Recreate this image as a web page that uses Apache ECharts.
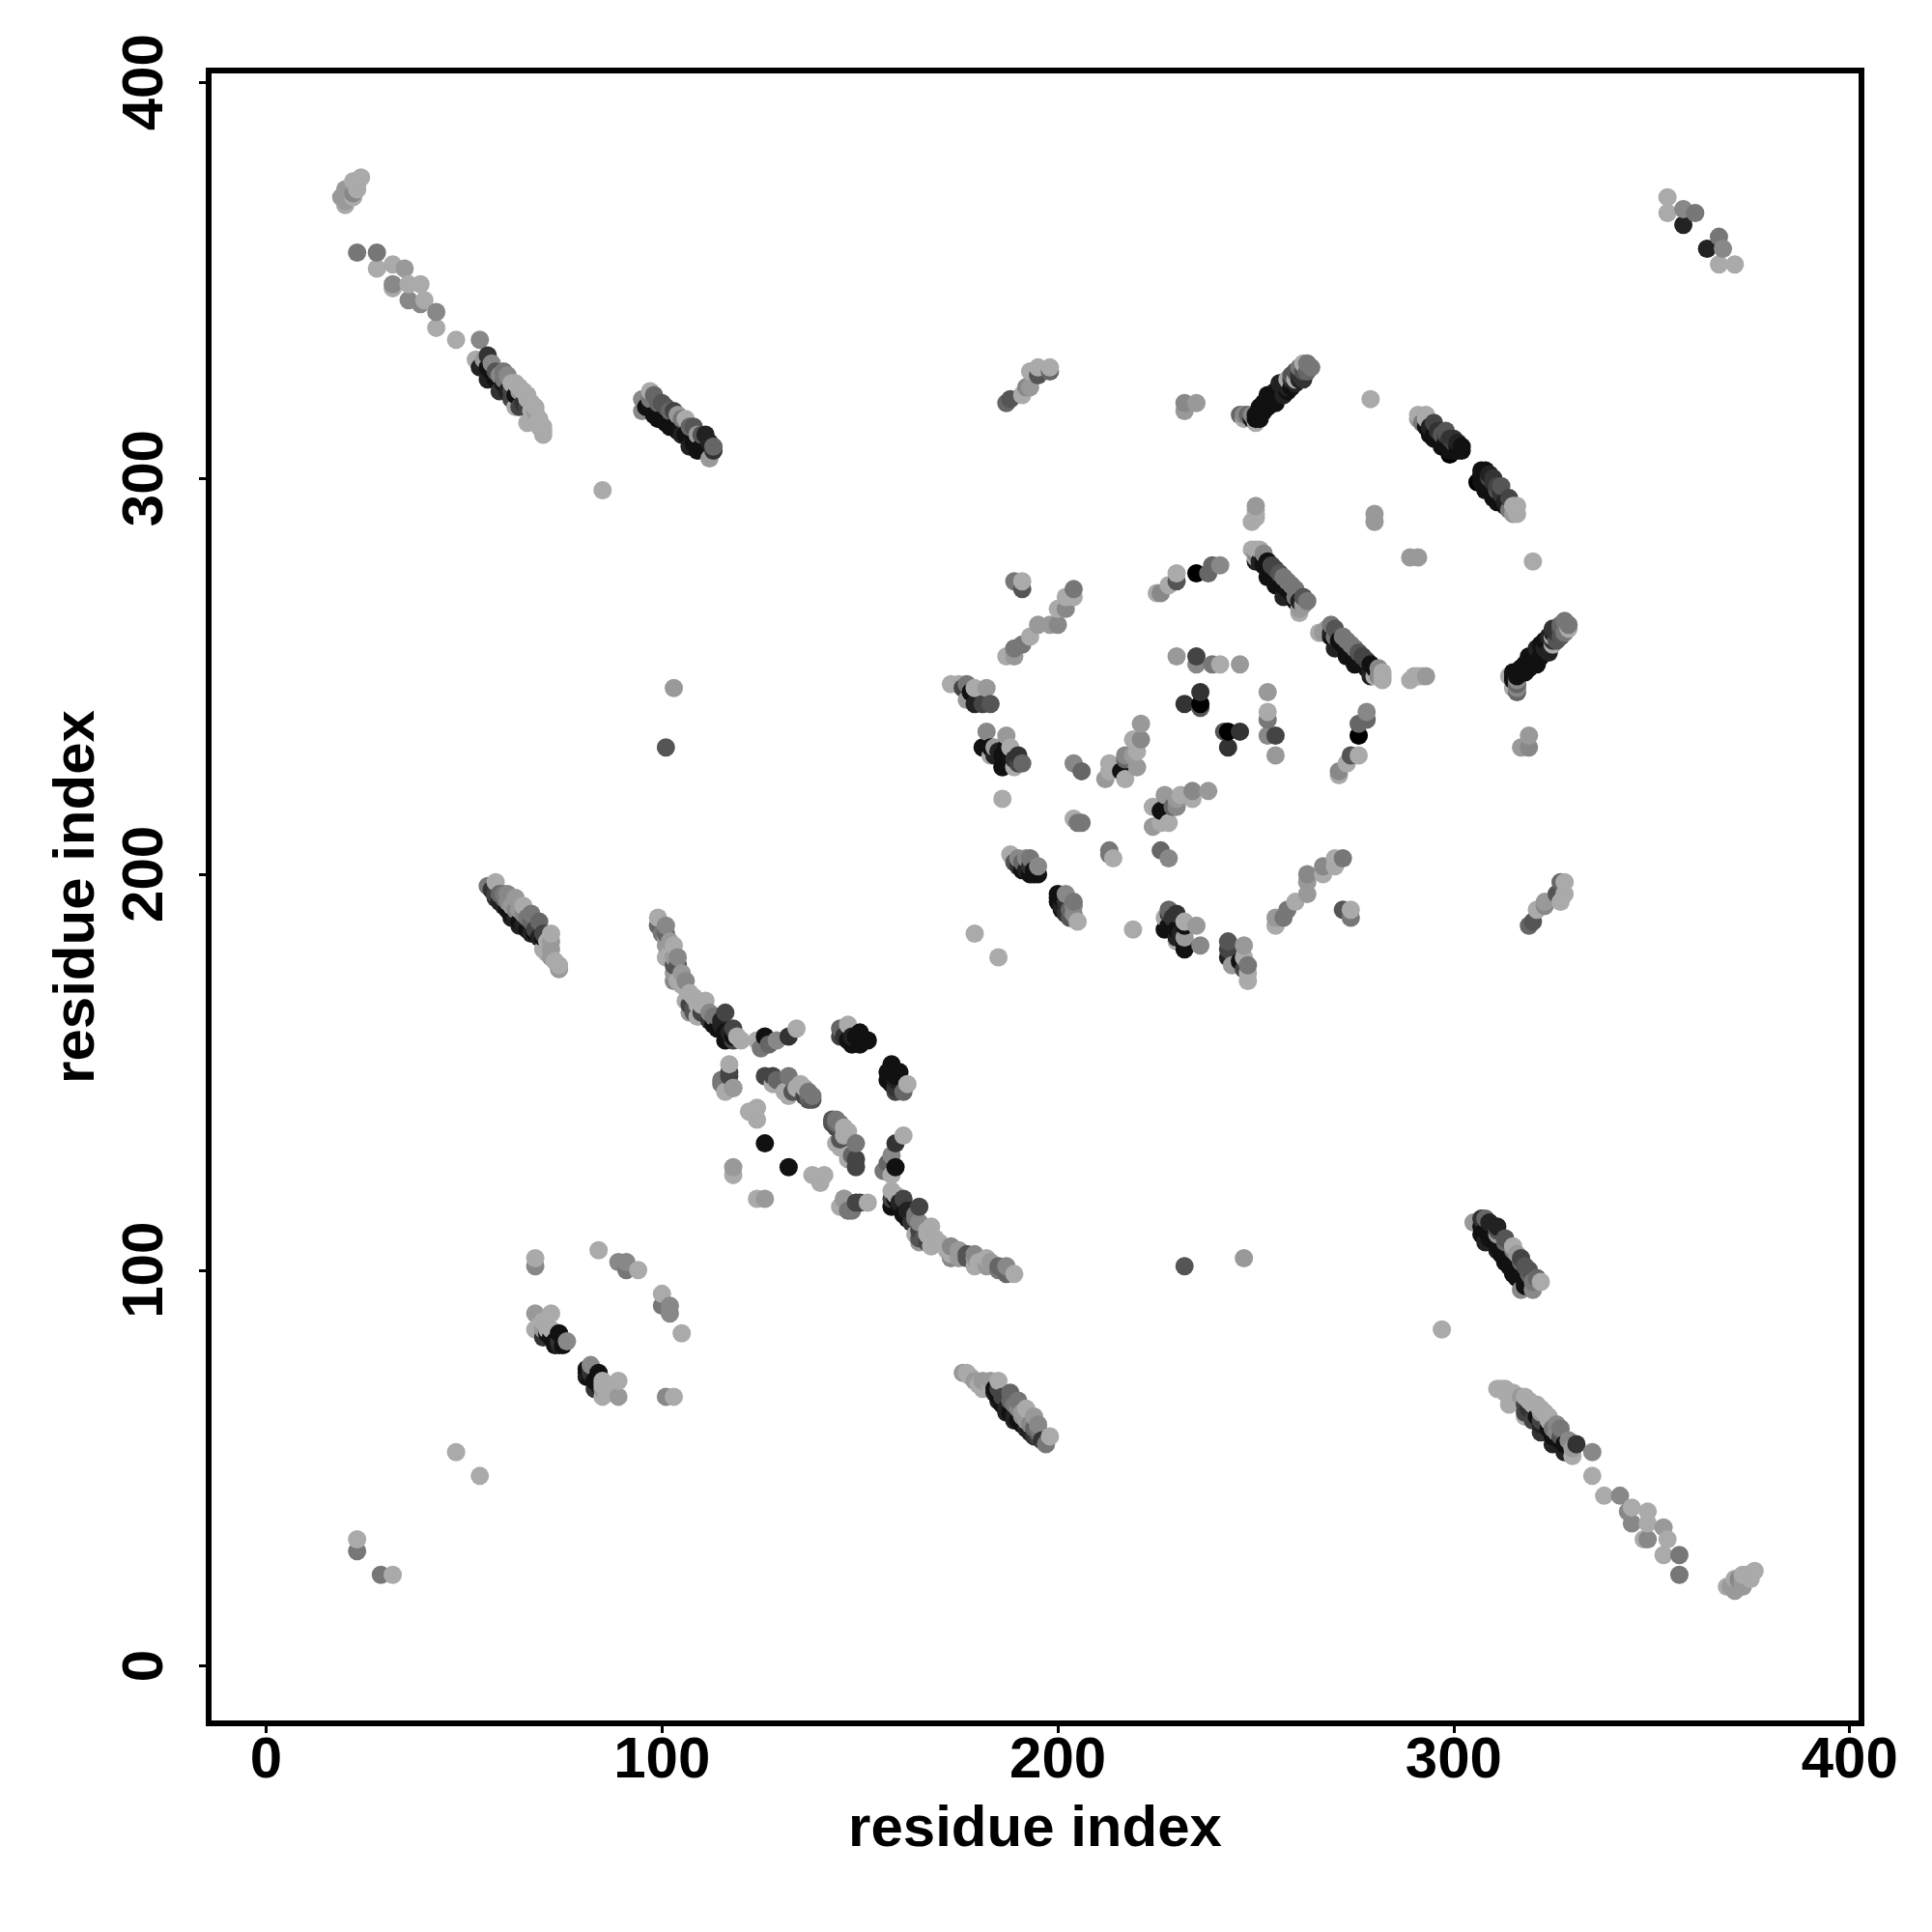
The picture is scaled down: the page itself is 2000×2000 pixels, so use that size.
<!DOCTYPE html>
<html>
<head>
<meta charset="utf-8">
<style>html,body{margin:0;padding:0;background:#fff}#c{width:2000px;height:2000px}</style>
<script src="https://cdn.jsdelivr.net/npm/echarts@6/dist/echarts.min.js"></script>
</head>
<body>
<div id="c"></div>
<script>
// Residue contacts: [i, j, shade]; shade s means grey #sss. Map is symmetric.
const terminiBlob = [[24,376,'a'],[22,375,'a'],[21,372,'9'],[20,373,'9'],[20,370,'9'],[20,369,'a'],[23,374,'a'],[21,373,'9'],[22,372,'8'],[22,371,'a'],[23,375,'a'],[23,373,'a'],[19,371,'9']];
const earlyContacts = [[23,32,'a'],[23,29,'7'],[48,54,'a'],[85,297,'a'],[101,232,'5'],[103,247,'9'],[179,185,'a'],[186,219,'a'],[279,320,'a']];
const strandA = [[23,357,'7'],[28,357,'7'],[28,353,'a'],[32,354,'a'],[35,353,'9'],[32,349,'8'],[32,348,'a'],[36,349,'a'],[39,349,'a'],[36,345,'8'],[40,345,'a'],[39,344,'8'],[43,342,'8'],[43,338,'a'],[48,335,'a'],[54,335,'8']];
const strandB = [[53,330,'a'],[56,331,'3'],[54,328,'2'],[57,329,'8'],[60,327,'7'],[56,325,'2'],[62,324,'a'],[64,323,'a'],[59,322,'3'],[66,321,'a'],[62,320,'4'],[63,318,'a'],[64,318,'4'],[68,317,'9'],[66,314,'a'],[69,315,'a'],[70,312,'a'],[55,330,'9'],[56,328,'1'],[57,327,'1'],[58,325,'1'],[58,327,'5'],[59,326,'8'],[60,324,'1'],[60,325,'7'],[61,322,'2'],[61,326,'8'],[62,322,'4'],[63,321,'1'],[63,324,'a'],[64,322,'9'],[65,319,'3'],[65,322,'a'],[66,318,'4'],[66,320,'a'],[67,317,'a'],[67,319,'a'],[68,315,'a'],[68,318,'a'],[69,314,'a'],[70,313,'a'],[70,311,'a'],[69,313,'a']];
const strandC = [[95,320,'8'],[95,317,'8'],[97,322,'a'],[98,321,'6'],[97,318,'1'],[100,319,'5'],[99,315,'1'],[103,317,'4'],[102,313,'1'],[104,316,'9'],[106,315,'a'],[105,311,'2'],[108,313,'5'],[107,308,'2'],[109,311,'9'],[111,311,'2'],[109,307,'1'],[113,308,'6'],[112,305,'9'],[113,307,'3'],[96,318,'1'],[97,320,'7'],[98,316,'1'],[99,319,'6'],[100,315,'1'],[101,318,'5'],[101,314,'1'],[102,317,'6'],[103,313,'1'],[104,312,'1'],[105,315,'7'],[106,311,'1'],[107,313,'6'],[108,309,'1'],[110,308,'1'],[110,311,'5'],[111,307,'1'],[112,309,'2']];
const strandD = [[56,197,'7'],[58,198,'a'],[58,195,'4'],[60,195,'7'],[61,195,'8'],[60,192,'2'],[63,194,'9'],[62,189,'2'],[65,192,'a'],[64,187,'2'],[67,190,'7'],[67,185,'2'],[69,188,'6'],[70,185,'4'],[72,185,'a'],[70,181,'a'],[72,181,'9'],[72,179,'9'],[74,177,'a'],[57,196,'3'],[58,194,'3'],[59,193,'2'],[59,195,'6'],[60,194,'6'],[61,191,'1'],[61,193,'8'],[62,190,'1'],[62,192,'9'],[63,189,'2'],[63,191,'8'],[64,188,'1'],[64,191,'9'],[65,187,'2'],[65,190,'8'],[66,186,'1'],[66,189,'7'],[67,188,'6'],[68,185,'1'],[68,186,'4'],[69,184,'2'],[70,184,'1'],[71,183,'a'],[71,180,'a'],[73,178,'a'],[72,183,'9'],[74,176,'9']];
const loopE = [[68,103,'a'],[68,101,'8'],[84,105,'a'],[89,102,'8'],[91,102,'8'],[91,100,'7'],[94,100,'a'],[68,89,'9'],[72,89,'a'],[68,85,'a'],[70,85,'9'],[74,84,'1'],[70,83,'3'],[76,82,'8'],[73,81,'1'],[72,85,'a'],[74,81,'2'],[71,84,'1'],[72,83,'1'],[73,82,'1'],[75,81,'1'],[69,86,'a'],[70,87,'a'],[74,82,'3'],[71,85,'a']];
const arcF = [[99,189,'a'],[99,187,'6'],[101,187,'8'],[101,184,'9'],[101,182,'9'],[103,182,'a'],[101,179,'a'],[104,179,'8'],[104,177,'5'],[104,173,'a'],[106,173,'8'],[106,168,'a'],[108,169,'a'],[108,166,'5'],[111,168,'a'],[109,164,'a'],[113,164,'7'],[116,165,'4'],[114,161,'1'],[118,161,'4'],[116,158,'1'],[120,158,'a'],[115,163,'2'],[118,159,'1'],[100,185,'7'],[102,183,'9'],[102,180,'a'],[103,177,'5'],[103,175,'9'],[105,175,'9'],[105,172,'a'],[107,170,'a'],[107,167,'4'],[109,167,'a'],[110,165,'4'],[110,167,'a'],[112,165,'8'],[112,163,'3'],[113,162,'1'],[114,164,'7'],[115,162,'2'],[117,160,'2'],[119,159,'a']];
const loopG = [[124,158,'a'],[126,159,'1'],[125,156,'7'],[127,157,'6'],[129,158,'8'],[132,159,'3'],[134,161,'a'],[145,161,'6'],[147,162,'a'],[146,159,'3'],[150,160,'1'],[148,157,'1'],[152,158,'1'],[150,157,'1'],[145,159,'4'],[149,159,'1'],[147,158,'1'],[151,158,'1'],[148,159,'2']];
const loopH = [[117,152,'a'],[117,149,'4'],[115,147,'7'],[118,146,'8'],[116,145,'a'],[126,149,'4'],[128,149,'4'],[132,149,'7'],[135,147,'a'],[131,145,'a'],[137,144,'6'],[137,143,'5'],[133,145,'5'],[128,147,'a'],[129,147,'a'],[132,144,'a'],[136,146,'a'],[138,144,'7'],[136,144,'4'],[134,146,'a'],[129,148,'6'],[137,145,'7'],[138,143,'5']];
const loopI = [[118,126,'9'],[118,124,'a'],[124,141,'a'],[124,138,'a'],[122,140,'a'],[126,132,'1']];
const arcJ = [[118,158,'4'],[116,160,'1'],[118,146,'9'],[115,148,'7'],[117,150,'4'],[108,165,'5'],[107,165,'9'],[103,173,'8'],[103,179,'9'],[101,185,'6']];
const strandK = [[187,319,'6'],[188,320,'5'],[191,321,'a'],[192,323,'8'],[193,323,'9'],[193,327,'a'],[195,326,'5'],[195,328,'a'],[198,327,'6'],[198,328,'a']];
const strandL = [[232,319,'8'],[232,317,'9'],[235,319,'9']];
const strandM = [[246,316,'6'],[247,316,'8'],[247,315,'a'],[250,314,'a'],[250,315,'1'],[251,317,'1'],[252,319,'1'],[253,320,'1'],[255,321,'1'],[256,323,'1'],[257,321,'2'],[258,323,'2'],[259,325,'3'],[260,327,'5'],[261,326,'3'],[262,327,'5'],[263,329,'7'],[254,319,'1'],[258,325,'a'],[260,325,'a'],[248,316,'6'],[249,315,'1'],[249,316,'8'],[250,316,'1'],[251,315,'1'],[251,318,'1'],[252,317,'1'],[253,318,'1'],[253,321,'1'],[254,320,'1'],[255,319,'1'],[255,322,'1'],[256,321,'1'],[256,324,'2'],[257,323,'2'],[258,322,'1'],[259,323,'1'],[259,326,'5'],[260,324,'2'],[261,325,'2'],[261,328,'7'],[262,325,'3'],[262,329,'a'],[263,327,'6'],[264,328,'7']];
const strandN = [[291,315,'9'],[291,316,'a'],[293,316,'a'],[293,313,'1'],[295,314,'4'],[295,310,'1'],[298,312,'5'],[297,308,'1'],[300,310,'3'],[299,307,'1'],[302,308,'1'],[294,311,'1'],[298,311,'4'],[297,309,'1'],[300,309,'4'],[301,308,'1'],[299,306,'0'],[292,314,'7'],[293,315,'a'],[294,313,'2'],[294,312,'1'],[295,311,'1'],[296,312,'3'],[296,310,'1'],[297,311,'5'],[298,309,'1'],[299,310,'3'],[299,308,'1'],[300,307,'1'],[301,309,'2'],[301,307,'1'],[302,307,'1']];
const pairO = [[250,292,'a'],[250,290,'a'],[249,289,'a'],[250,291,'a'],[250,293,'9'],[280,291,'9'],[280,289,'9']];
const strandP = [[249,282,'a'],[251,282,'a'],[252,281,'8'],[251,279,'2'],[253,279,'1'],[255,277,'4'],[253,275,'1'],[257,275,'7'],[255,273,'1'],[259,273,'7'],[257,270,'2'],[261,267,'9'],[262,270,'5'],[261,266,'a'],[250,280,'a'],[250,282,'a'],[260,270,'7'],[250,279,'2'],[250,281,'8'],[252,278,'1'],[252,280,'1'],[253,277,'1'],[254,276,'1'],[254,278,'4'],[255,275,'1'],[256,274,'1'],[256,276,'5'],[257,273,'1'],[258,272,'1'],[258,274,'7'],[259,271,'1'],[260,272,'7'],[261,269,'2'],[262,268,'9'],[263,269,'7'],[260,269,'1']];
const strandQ = [[225,271,'a'],[226,271,'8'],[228,273,'a'],[230,274,'5'],[230,276,'a'],[235,276,'0'],[238,276,'6'],[239,278,'6'],[241,278,'8']];
const strandR = [[189,274,'7'],[191,274,'a'],[191,272,'5']];
const strandS = [[187,255,'a'],[189,255,'9'],[189,257,'7'],[191,258,'7'],[193,260,'a'],[195,263,'9'],[198,263,'9'],[200,263,'8'],[200,267,'a'],[202,267,'8'],[202,270,'a'],[204,270,'a'],[204,272,'7']];
const clusterT = [[173,248,'a'],[175,248,'a'],[177,248,'7'],[177,244,'9'],[178,246,'1'],[179,247,'a'],[182,247,'9'],[179,243,'2'],[181,243,'4'],[183,243,'5'],[176,247,'4']];
const clusterU = [[182,236,'8'],[181,232,'1'],[183,230,'a'],[184,232,'9'],[186,227,'1'],[187,232,'1'],[187,235,'9'],[189,229,'3'],[189,227,'a'],[191,228,'6'],[184,230,'2'],[186,230,'1'],[188,229,'1'],[185,231,'2'],[183,232,'1'],[187,228,'1'],[190,228,'4'],[190,230,'3'],[188,232,'a']];
const clusterV = [[230,255,'9'],[235,255,'4'],[235,253,'8'],[239,253,'7'],[241,253,'a'],[246,253,'9'],[236,246,'3'],[232,243,'3'],[236,243,'0'],[236,242,'5']];
const clusterW = [[204,228,'8'],[206,226,'6'],[212,224,'9'],[213,226,'a'],[213,228,'a'],[216,226,'1'],[217,224,'a'],[217,229,'6'],[217,230,'8'],[219,230,'9'],[219,234,'a'],[220,227,'9'],[220,231,'a'],[221,234,'8'],[221,238,'9']];
const clusterX = [[204,214,'a'],[205,213,'7'],[206,213,'7'],[188,205,'a'],[190,204,'8'],[189,203,'5'],[193,204,'7'],[192,201,'2'],[195,202,'8'],[194,200,'1'],[194,201,'1'],[190,202,'3'],[191,203,'6'],[192,204,'8'],[193,200,'1'],[193,202,'3'],[191,201,'1'],[195,200,'1']];
const blockY = [[354,371,'a'],[354,367,'a'],[358,368,'8'],[358,364,'2'],[361,367,'7']];
const ticks = [0,100,200,300,400];
const axisTitle = 'residue index';

const contacts = [terminiBlob,earlyContacts,strandA,strandB,strandC,strandD,loopE,arcF,loopG,loopH,loopI,arcJ,strandK,strandL,strandM,strandN,pairO,strandP,strandQ,strandR,strandS,clusterT,clusterU,clusterV,clusterW,clusterX,blockY].flat();
const points = [];
contacts.forEach(c => { points.push([c[0],c[1],c[2]]); points.push([c[1],c[0],c[2]]); });
points.sort((a,b) => a[0]-b[0] || a[1]-b[1]);

const font = '"Liberation Sans", Arial, Helvetica, sans-serif';
function axis(extra){
  return Object.assign({
    type:'value', min:-14.5, max:403,
    name:axisTitle, nameLocation:'middle',
    nameTextStyle:{fontFamily:font,fontWeight:'bold',fontSize:60,color:'#000'},
    axisLine:{show:false,onZero:false},
    axisTick:{show:true,customValues:ticks,length:10,lineStyle:{color:'#000',width:3}},
    splitLine:{show:false}
  },extra);
}
const chart = echarts.init(document.getElementById('c'),null,{renderer:'canvas',width:2000,height:2000});
chart.setOption({
  animation:false,
  backgroundColor:'#fff',
  grid:{show:true,left:216,top:73,width:1711,height:1711,borderColor:'#000',borderWidth:6,backgroundColor:'#fff'},
  xAxis:axis({nameGap:80,axisLabel:{customValues:ticks,margin:9,fontFamily:font,fontWeight:'bold',fontSize:60,color:'#000',hideOverlap:false}}),
  yAxis:axis({nameGap:106,axisLabel:{customValues:ticks,rotate:90,margin:35,fontFamily:font,fontWeight:'bold',fontSize:60,color:'#000',hideOverlap:false}}),
  series:[{
    type:'scatter',
    symbol:'circle',
    symbolSize:19,
    silent:true,
    large:false,
    progressive:0,
    data:points,
    itemStyle:{opacity:1,color:p => '#'+p.value[2].repeat(3)}
  }]
});
</script>
</body>
</html>
